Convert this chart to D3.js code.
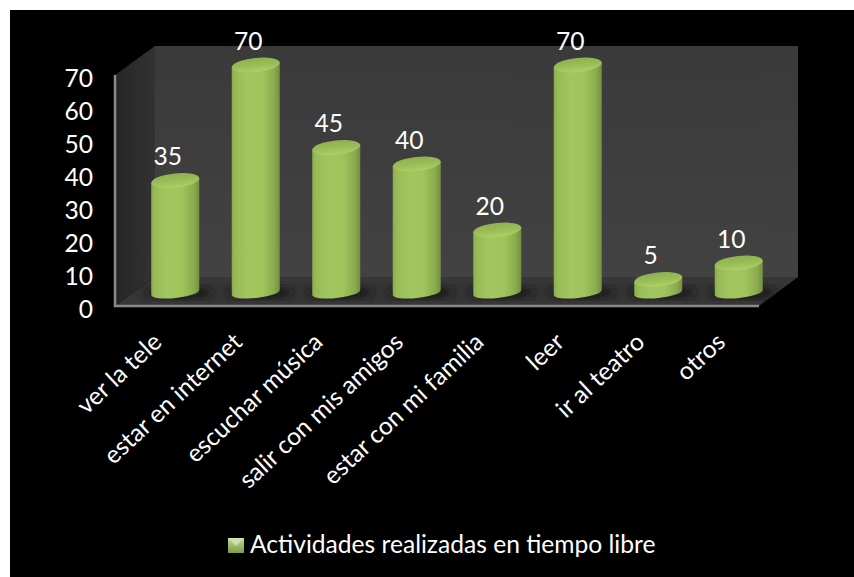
<!DOCTYPE html>
<html>
<head>
<meta charset="utf-8">
<script src="https://cdn.jsdelivr.net/npm/d3@7/dist/d3.min.js"></script>
<style>
  html, body { margin: 0; padding: 0; background: #fff; }
  svg { display: block; }
  text { font-family: Lato, "Open Sans", sans-serif; fill: #fff; }
</style>
</head>
<body>
<svg width="854" height="577"></svg>
<script>
const categories = ["ver la tele", "estar en internet", "escuchar música", "salir con mis amigos",
                    "estar con mi familia", "leer", "ir al teatro", "otros"];
const values = [35, 70, 45, 40, 20, 70, 5, 10];
const yTicks = [0, 10, 20, 30, 40, 50, 60, 70];
const seriesName = "Actividades realizadas en tiempo libre";

const svg = d3.select("svg");
const defs = svg.append("defs");
const fontSize = "24.6px";

// black card, white page only shows top and left
svg.append("rect").attr("x", 10).attr("y", 10).attr("width", 844).attr("height", 567).attr("fill", "#000");

// the 3d box
const depthX = 40, depthY = 30;
const left = 115, right = 759, floorY = 306;

const y = d3.scaleLinear().domain([0, 70]).range([floorY, 75]);
const x = d3.scaleBand().domain(categories).range([left + 20, right + 20]).paddingInner(0.4).paddingOuter(0.2);
const barBottom = floorY - 13.5;
const barTop = v => y(v) - 10;

function linear(id, stops, vertical) {
    const g = defs.append("linearGradient").attr("id", id)
        .attr("x1", 0).attr("y1", 0).attr("x2", vertical ? 0 : 1).attr("y2", vertical ? 1 : 0);
    stops.forEach(s => g.append("stop").attr("offset", s[0]).attr("stop-color", s[1]));
}
linear("body", [[0, "#8aab4a"], [0.08, "#98bb57"], [0.35, "#a3c75f"], [0.65, "#a0c35c"], [0.88, "#8cab4e"], [1, "#748f40"]]);
linear("top", [[0, "#8fb04f"], [0.55, "#9cbe58"], [1, "#aed069"]], true);
linear("back", [[0, "#3a3a3a"], [1, "#424242"]], true);
linear("side", [[0, "#262626"], [1, "#323232"]]);
linear("swatch", [[0, "#c3d69b"], [1, "#7f9c45"]], true);
defs.append("filter").attr("id", "soft").attr("x", "-30%").attr("width", "160%")
    .append("feGaussianBlur").attr("stdDeviation", 4);

const box = svg.append("g");
const topY = y(70);
box.append("path") // back wall
    .attr("d", `M${left + depthX},${topY - depthY + 1}H${right + depthX - 1}V${floorY - depthY + 1}H${left + depthX}Z`)
    .attr("fill", "url(#back)");
box.append("path") // left wall
    .attr("d", `M${left},${topY}L${left + depthX},${topY - depthY + 1}V${floorY - depthY + 1}L${left},${floorY}Z`)
    .attr("fill", "url(#side)");
box.append("path") // floor
    .attr("d", `M${left},${floorY}L${left + depthX},${floorY - depthY + 1}H${right + depthX - 1}L${right},${floorY}Z`)
    .attr("fill", "#363636");
box.append("path") // front edges
    .attr("d", `M${left},${topY}V${floorY}H${right}`)
    .attr("fill", "none").attr("stroke", "#8a8a8a").attr("stroke-width", 2.5);

// y axis
const axis = svg.append("g")
    .attr("transform", `translate(${left - 22},2.5)`)
    .call(d3.axisLeft(y).tickValues(yTicks).tickSize(0).tickPadding(0));
axis.select(".domain").remove();
axis.selectAll("text").style("font-size", fontSize).style("font-family", "Lato, 'Open Sans', sans-serif").attr("fill", "#fff").attr("dy", "0.35em");

// cylinders
const rx = x.bandwidth() / 2, ry = 7, ryBottom = 5.5, tilt = -6;
const bars = svg.selectAll("g.bar").data(categories).enter().append("g").attr("class", "bar");
const cx = d => x(d) + rx;

bars.append("ellipse")
    .attr("cx", d => cx(d) + 4).attr("cy", barBottom)
    .attr("rx", rx + 10).attr("ry", ry)
    .attr("fill", "#141414").attr("opacity", 0.8).attr("filter", "url(#soft)");

bars.append("path")
    .attr("d", (d, i) => {
        const a = tilt * Math.PI / 180, dx = rx * Math.cos(a), dy = rx * Math.sin(a);
        const t = barTop(values[i]);
        const c = cx(d);
        return `M${c - dx},${t - dy}L${c - dx},${barBottom - dy}` +
               `A${rx},${ryBottom} ${tilt} 0 0 ${c + dx},${barBottom + dy}` +
               `L${c + dx},${t + dy}Z`;
    })
    .attr("fill", "url(#body)");

bars.append("ellipse")
    .attr("cx", 0).attr("cy", 0).attr("rx", rx).attr("ry", ry)
    .attr("transform", (d, i) => `translate(${cx(d)},${barTop(values[i])}) rotate(${tilt})`)
    .attr("fill", "url(#top)");

// value labels
bars.append("text")
    .attr("x", d => cx(d) - 7.5)
    .attr("y", (d, i) => barTop(values[i]) - 24)
    .attr("dy", "0.35em")
    .attr("text-anchor", "middle")
    .style("font-size", fontSize)
    .text((d, i) => values[i]);

// category labels
svg.selectAll("text.cat").data(categories).enter().append("text")
    .attr("class", "cat")
    .attr("text-anchor", "end")
    .attr("transform", d => `translate(${cx(d) - 12},${floorY + 38}) rotate(-43)`)
    .style("font-size", fontSize)
    .text(d => d);

// legend
const legend = svg.append("g").attr("transform", "translate(228,538)");
legend.append("rect").attr("y", 0).attr("width", 16).attr("height", 15).attr("fill", "url(#swatch)");
legend.append("path").attr("d", "M0,0H16L8,8Z").attr("fill", "#d5e3b0").attr("opacity", 0.8);
legend.append("text").attr("x", 22).attr("y", 15).style("font-size", fontSize).text(seriesName);
</script>
</body>
</html>
